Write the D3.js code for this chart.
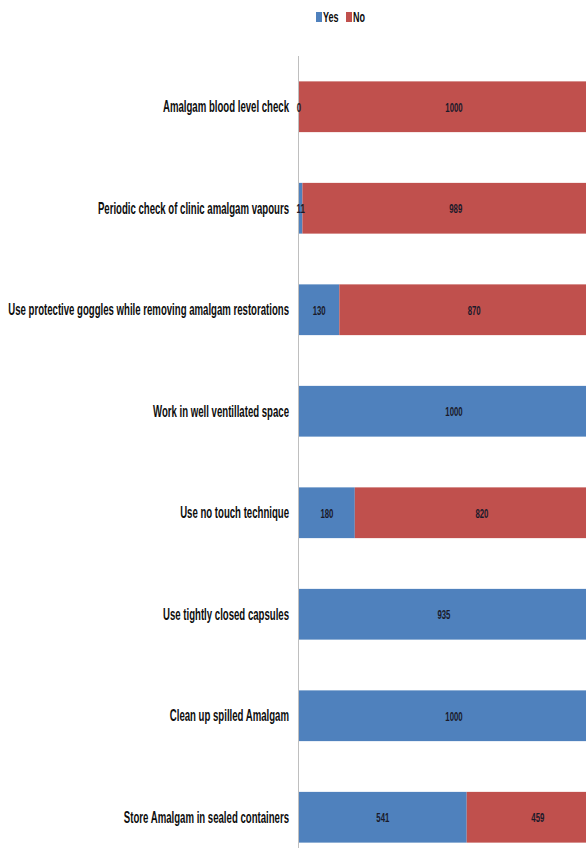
<!DOCTYPE html>
<html><head><meta charset="utf-8">
<script src="https://cdn.jsdelivr.net/npm/d3@7"></script>
<style>html,body{margin:0;padding:0;background:#fff;overflow:hidden}</style>
</head><body>
<svg id="c" width="586" height="848"></svg>
<script>
const categories = [
  "Amalgam blood level check",
  "Periodic check of clinic amalgam vapours",
  "Use protective goggles while removing amalgam restorations",
  "Work in well ventillated space",
  "Use no touch technique",
  "Use tightly closed capsules",
  "Clean up spilled Amalgam",
  "Store Amalgam in sealed containers"
];
const seriesNames = ["Yes", "No"];
const yesValues = [0, 11, 130, 1000, 180, 935, 1000, 541];
const noValues  = [1000, 989, 870, 0, 820, 65, 0, 459];
const colors = ["#4F81BD", "#C0504D"];

const W = 586;
const svg = d3.select("#c");
const data = categories.map((c, i) => ({cat: c, Yes: yesValues[i], No: noValues[i]}));
const stack = d3.stack().keys(seriesNames)(data);

const x = d3.scaleLinear().domain([0, 1000]).range([299, 609]);
const y = d3.scaleBand().domain(categories).range([56, 868]).paddingInner(0.5).paddingOuter(0.25);

const font = "'Liberation Sans', Arial, sans-serif";

// bars
stack.forEach((s, si) => {
  svg.append("g").selectAll("rect").data(s).join("rect")
    .attr("x", d => x(d[0]))
    .attr("y", d => y(d.data.cat))
    .attr("width", d => x(d[1]) - x(d[0]))
    .attr("height", y.bandwidth())
    .attr("fill", colors[si]);
});

// axis line
svg.append("line").attr("x1", x(0) - 0.5).attr("x2", x(0) - 0.5)
  .attr("y1", y.range()[0]).attr("y2", y.range()[1])
  .attr("stroke", "#bfbfbf").attr("stroke-width", 1);

// category labels (condensed)
const labs = svg.append("g").selectAll("text").data(categories).join("text")
  .attr("font-family", font).attr("font-weight", "bold").attr("font-size", 16)
  .attr("text-anchor", "end").attr("fill", "#0d0d0d")
  .attr("dominant-baseline", "central")
  .text(d => d);
let maxW = 0;
labs.each(function(){ maxW = Math.max(maxW, this.getComputedTextLength()); });
const sx = 281 / maxW;
labs.attr("transform", d => `translate(289,${y(d) + y.bandwidth()/2}) scale(${sx},1)`);

// value labels
stack.forEach((s, si) => {
  const key = seriesNames[si];
  svg.append("g").selectAll("text")
    .data(s.filter(d => (d.data[key] > 0 || (si === 0 && d.data.No === 1000)) && (x(d[0]) + x(d[1])) / 2 < W - 10))
    .join("text")
    .attr("font-family", font).attr("font-weight", "bold").attr("font-size", 13)
    .attr("text-anchor", "middle").attr("dominant-baseline", "central").attr("fill", "#1a1a2a")
    .attr("transform", d => `translate(${(x(d[0]) + x(d[1]))/2},${y(d.data.cat) + y.bandwidth()/2}) scale(${sx},1)`)
    .text(d => d.data[key]);
});

// legend
const leg = svg.append("g");
const legItems = [{n: "Yes", c: colors[0], x: 316}, {n: "No", c: colors[1], x: 346}];
legItems.forEach(it => {
  leg.append("rect").attr("x", it.x).attr("y", 12).attr("width", 6).attr("height", 10).attr("fill", it.c);
  leg.append("text").attr("font-family", font).attr("font-weight", "bold").attr("font-size", 15)
    .attr("dominant-baseline", "central").attr("fill", "#0d0d0d")
    .attr("transform", `translate(${it.x + 7},17) scale(${sx},1)`).text(it.n);
});
</script>
</body></html>
